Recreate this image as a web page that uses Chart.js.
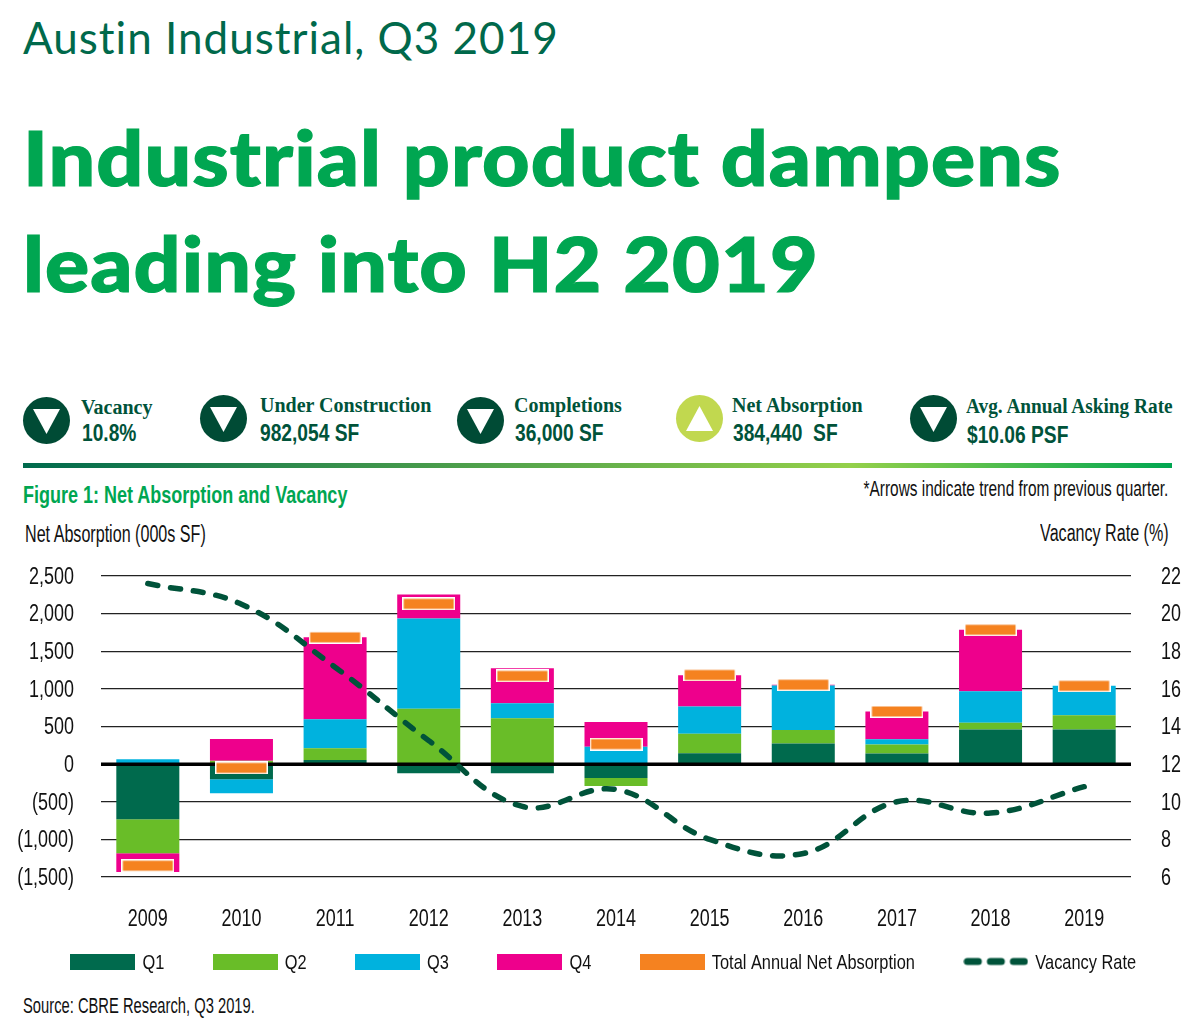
<!DOCTYPE html>
<html><head><meta charset="utf-8">
<script src="https://cdn.jsdelivr.net/npm/chart.js@4"></script>
<style>
html,body{margin:0;padding:0;background:#fff;width:1200px;height:1030px;overflow:hidden}
#wrap{position:relative;width:1200px;height:1030px}
canvas#c{position:absolute;left:0;top:0}
.t{position:absolute;white-space:nowrap;transform-origin:left top;line-height:1}
.r{transform-origin:right top}
.nar{font-family:"Liberation Sans",sans-serif;color:#111}
.kl{font-family:"Liberation Serif",serif;font-weight:700;font-size:20px;color:#00533a}
.kv{font-family:"Liberation Sans",sans-serif;font-weight:700;font-size:24px;color:#00533a;transform:scaleX(.8)}
.hd{font:900 76px Lato,sans-serif;color:#00a651;letter-spacing:1px;transform:scaleX(1.085);-webkit-text-stroke:1.2px #00a651}
.ic{position:absolute;border-radius:50%}
.ic svg{position:absolute;left:0;top:0}
</style></head><body><div id="wrap">
<div class="t" style="left:23px;top:11px;font:400 44px Lato,sans-serif;color:#00694b;letter-spacing:1px">Austin Industrial, Q3 2019</div>
<div class="t hd" style="left:23px;top:111px">Industrial product dampens</div>
<div class="t hd" style="left:23px;top:217px">leading into H2 2019</div>

<div class="ic" style="left:23px;top:397px;width:47px;height:47px;background:#004b35"><svg width="47" height="47"><polygon points="10,12 37,12 23.5,37" fill="#fff"/></svg></div>
<div class="t kl" style="left:81px;top:397px">Vacancy</div><div class="t kv" style="left:82px;top:421px">10.8%</div>
<div class="ic" style="left:200px;top:395px;width:47px;height:47px;background:#004b35"><svg width="47" height="47"><polygon points="10,12 37,12 23.5,37" fill="#fff"/></svg></div>
<div class="t kl" style="left:260px;top:395px">Under Construction</div><div class="t kv" style="left:260px;top:421px">982,054 SF</div>
<div class="ic" style="left:457px;top:397px;width:47px;height:47px;background:#004b35"><svg width="47" height="47"><polygon points="10,12 37,12 23.5,37" fill="#fff"/></svg></div>
<div class="t kl" style="left:514px;top:395px">Completions</div><div class="t kv" style="left:515px;top:421px">36,000 SF</div>
<div class="ic" style="left:676px;top:395px;width:47px;height:47px;background:#c1d84f"><svg width="47" height="47"><polygon points="10,36 37,36 23.5,11" fill="#fff"/></svg></div>
<div class="t kl" style="left:732px;top:395px">Net Absorption</div><div class="t kv" style="left:733px;top:421px">384,440&nbsp; SF</div>
<div class="ic" style="left:910px;top:395px;width:47px;height:47px;background:#004b35"><svg width="47" height="47"><polygon points="10,12 37,12 23.5,37" fill="#fff"/></svg></div>
<div class="t kl" style="left:966px;top:396px;transform:scaleX(.965)">Avg. Annual Asking Rate</div><div class="t kv" style="left:967px;top:423px">$10.06 PSF</div>

<div style="position:absolute;left:23px;top:463px;width:1149px;height:5px;background:linear-gradient(90deg,#006a4d 0%,#5aa84b 45%,#94d04a 72%,#00a651 100%)"></div>
<div class="t nar" style="left:23px;top:483px;font-size:24px;font-weight:700;color:#00a651;transform:scaleX(.75)">Figure 1: Net Absorption and Vacancy</div>
<div class="t nar r" style="right:32px;top:478px;font-size:22px;transform:scaleX(.70)">*Arrows indicate trend from previous quarter.</div>
<div class="t nar" style="left:25px;top:523px;font-size:23px;transform:scaleX(.70)">Net Absorption (000s SF)</div>
<div class="t nar r" style="right:31px;top:522px;font-size:23px;transform:scaleX(.70)">Vacancy Rate (%)</div>
<div class="t nar" style="left:23px;top:995px;font-size:22px;transform:scaleX(.67)">Source: CBRE Research, Q3 2019.</div>
<canvas id="c" width="1200" height="1030"></canvas>
</div>
<script>
const years=['2009','2010','2011','2012','2013','2014','2015','2016','2017','2018','2019'];
const q1=[-733,-200,55,-120,-120,-185,145,275,140,460,460];
const q2=[-450,45,155,735,610,-105,260,180,120,90,190];
const q3=[65,-187,385,1200,200,230,360,590,70,420,390];
const q4=[-250,290,1090,320,465,330,415,10,370,815,0];
const totalAnnual=[-1350,-50,1685,2130,1172,266,1185,1055,700,1785,1040];
const vacancy=[21.6,20.5,17.15,13.25,9.75,10.65,8.0,7.25,10.0,9.4,10.8];
const colQ1='#006a4d',colQ2='#69bd28',colQ3='#00b2de',colQ4='#ee008c',colTot='#f58220',colVac='#00533a';

function swatch(color){const c=document.createElement('canvas');c.width=65;c.height=16;const x=c.getContext('2d');x.fillStyle=color;x.fillRect(0,0,65,16);return c;}
function marker(){const c=document.createElement('canvas');c.width=53;c.height=13;const x=c.getContext('2d');x.fillStyle='#fff';x.fillRect(0,0,53,13);x.fillStyle=colTot;x.fillRect(1.5,1.5,50,10);return c;}
function dashes(){const c=document.createElement('canvas');c.width=65;c.height=10;const x=c.getContext('2d');x.strokeStyle=colVac;x.lineWidth=7;x.lineCap='round';[[4,15],[27,38],[50,61]].forEach(d=>{x.beginPath();x.moveTo(d[0],5);x.lineTo(d[1],5);x.stroke();});return c;}

const zeroLine={id:'zeroLine',
  // Chart.js clips tick labels to the scale's box; the box is kept short so the legend can sit where it does.
  afterLayout(chart){chart.scales.x.bottom=chart.height;},
  beforeDatasetDraw(chart,args){
    if(args.index!==4)return;
    const y=chart.scales.y.getPixelForValue(0),a=chart.chartArea,ctx=chart.ctx;
    ctx.save();ctx.strokeStyle='#000';ctx.lineWidth=3.5;ctx.beginPath();ctx.moveTo(a.left,y);ctx.lineTo(a.right,y);ctx.stroke();ctx.restore();
  }};
const fmt=v=>v<0?'('+Math.abs(v).toLocaleString('en-US')+')':v.toLocaleString('en-US');
const font={family:'"Liberation Sans",sans-serif',size:23};
const legendStyles=[swatch(colQ1),swatch(colQ2),swatch(colQ3),swatch(colQ4),swatch(colTot),dashes()];

// The installed fonts have no condensed face like the original's, so canvas text is narrowed horizontally.
const canvasEl=document.getElementById('c'),ctx2d=canvasEl.getContext('2d'),narrow=0.78;
const origFill=ctx2d.fillText.bind(ctx2d),origMeasure=ctx2d.measureText.bind(ctx2d);
ctx2d.fillText=function(t,x,y){ctx2d.save();ctx2d.translate(x,y+1.5);ctx2d.scale(narrow,1);origFill(t,0,0);ctx2d.restore();};
ctx2d.measureText=function(t){return {width:origMeasure(t).width*narrow};};

new Chart(canvasEl,{
  data:{labels:years,datasets:[
    {type:'bar',label:'Q1',data:q1,backgroundColor:colQ1,order:3,yAxisID:'y'},
    {type:'bar',label:'Q2',data:q2,backgroundColor:colQ2,order:3,yAxisID:'y'},
    {type:'bar',label:'Q3',data:q3,backgroundColor:colQ3,order:3,yAxisID:'y'},
    {type:'bar',label:'Q4',data:q4,backgroundColor:colQ4,order:3,yAxisID:'y'},
    {type:'line',label:'Total Annual Net Absorption',data:totalAnnual,showLine:false,pointStyle:marker(),pointRadius:8,pointHoverRadius:8,borderColor:colTot,backgroundColor:colTot,order:2,yAxisID:'y'},
    {type:'line',label:'Vacancy Rate',data:vacancy,borderColor:colVac,borderWidth:5.5,borderDash:[10,13],borderCapStyle:'round',tension:0.4,pointRadius:0,fill:false,order:1,yAxisID:'y2'}
  ]},
  plugins:[zeroLine],
  options:{
    responsive:false,animation:false,
    layout:{padding:{top:576,left:10,right:0,bottom:48}},
    datasets:{bar:{categoryPercentage:1,barPercentage:0.673}},
    plugins:{
      title:{display:false},tooltip:{enabled:false},
      legend:{position:'bottom',labels:{usePointStyle:true,pointStyleWidth:58,boxHeight:21,padding:52,font:{family:font.family,size:21},color:'#111',
        generateLabels:ch=>ch.data.datasets.map((d,i)=>({text:d.label,pointStyle:legendStyles[i],datasetIndex:i,hidden:false,fontColor:'#111',lineWidth:0}))}}
    },
    scales:{
      x:{stacked:true,grid:{display:false},border:{display:false},
        ticks:{font:font,color:'#111',padding:19,maxRotation:0},afterFit(s){s.height=22;}},
      y:{stacked:true,min:-1500,max:2500,position:'left',
        grid:{color:'#222',lineWidth:1.2,drawTicks:false},border:{display:false},
        ticks:{stepSize:500,font:font,color:'#111',padding:27,callback:fmt},afterFit(s){s.width=91;}},
      y2:{min:6,max:22,position:'right',grid:{display:false},border:{display:false},
        ticks:{stepSize:2,font:font,color:'#111',padding:22},afterFit(s){s.width=69;}}
    }
  }
});
</script></body></html>
